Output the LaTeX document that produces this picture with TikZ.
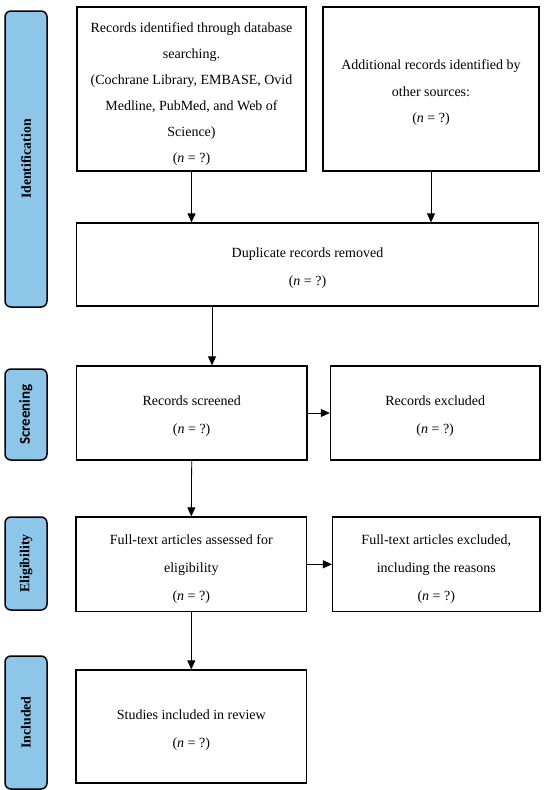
\documentclass[tikz,border=0pt]{standalone}
\usepackage{fontspec}
\setmainfont{Liberation Serif}
\newfontfamily\carlito{Carlito}
\usetikzlibrary{arrows.meta}
\definecolor{barblue}{RGB}{142,198,234}
\begin{document}
\begin{tikzpicture}[x=1pt,y=-1pt,
  box/.style={draw=black, line width=1.3pt, rectangle, inner sep=0pt},
  txt/.style={align=center, inner sep=0pt, font=\fontsize{14}{28}\selectfont},
  bar/.style={draw=black, fill=barblue, line width=1.5pt, rounded corners=6pt,
    minimum width=42pt, inner sep=0pt},
  lab/.style={rotate=90, font=\fontsize{13.8}{15}\selectfont\bfseries},
  arr/.style={line width=0.8pt, -{Triangle[length=9pt,width=8pt]}}]
\useasboundingbox (0,0) rectangle (550,790);
% phase bars
\node[bar, minimum height=296pt] (bid) at (26,159) {};
\node[lab] (lid) at (bid.center) {Identification};
\node[bar, minimum height=91pt] (bsc) at (26,414.5) {};
\node[lab, font=\fontsize{15}{16}\selectfont\carlito\bfseries] (lsc) at (bsc.center) {Screening};
\node[bar, minimum height=93pt] (bel) at (26,563.5) {};
\node[lab] (lel) at (bel.center) {Eligibility};
\node[bar, minimum height=133pt] (bin) at (26,722.5) {};
\node[lab] (lin) at (bin.center) {Included};
% boxes
\node[box, minimum width=229pt, minimum height=164pt] (db) at (191.5,89) {};
\node[txt, font=\fontsize{14}{26}\selectfont] (dbt) at ([yshift=-5pt]db.center)
  {Records identified through database\\searching.\\(Cochrane Library, EMBASE, Ovid\\Medline, PubMed, and Web of\\Science)\\(\textit{n} = ?)};
\node[box, minimum width=216pt, minimum height=164pt] (oth) at (431,89) {};
\node[txt, font=\fontsize{14}{26.5}\selectfont] (otht) at ([yshift=-4pt]oth.center)
  {Additional records identified by\\other sources:\\(\textit{n} = ?)};
\node[box, minimum width=462pt, minimum height=83pt] (dup) at (307.5,264.5) {};
\node[txt] (dupt) at ([yshift=-4pt]dup.center) {Duplicate records removed\\(\textit{n} = ?)};
\node[box, minimum width=230.5pt, minimum height=94pt] (scr) at (191.7,413) {};
\node[txt] (scrt) at ([yshift=-3.5pt]scr.center) {Records screened\\(\textit{n} = ?)};
\node[box, minimum width=209.5pt, minimum height=94pt] (exc) at (435.2,413) {};
\node[txt] (exct) at ([yshift=-3.5pt]exc.center) {Records excluded\\(\textit{n} = ?)};
\node[box, minimum width=230.7pt, minimum height=94.6pt] (ft) at (191.3,564.3) {};
\node[txt] (ftt) at ([yshift=-4.5pt]ft.center)
  {Full-text articles assessed for\\eligibility\\(\textit{n} = ?)};
\node[box, minimum width=207.4pt, minimum height=94.6pt] (fex) at (436.3,564.3) {};
\node[txt] (fext) at ([yshift=-4.5pt]fex.center)
  {Full-text articles excluded,\\including the reasons\\(\textit{n} = ?)};
\node[box, minimum width=230.7pt, minimum height=113pt] (inc) at (191.3,726.5) {};
\node[txt] (inct) at ([yshift=-4pt]inc.center) {Studies included in review\\(\textit{n} = ?)};
% connectors
\coordinate (c1) at (212,0);
\draw[arr] (db.south) -- (dup.north -| db.south);
\draw[arr] (oth.south) -- (dup.north -| oth.south);
\draw[arr] (dup.south -| c1) -- (scr.north -| c1);
\draw[arr] (scr.east) -- (exc.west);
\draw[arr] (scr.south) -- (ft.north);
\draw[arr] (ft.east) -- (fex.west);
\draw[arr] (ft.south) -- (inc.north);
\end{tikzpicture}
\end{document}
